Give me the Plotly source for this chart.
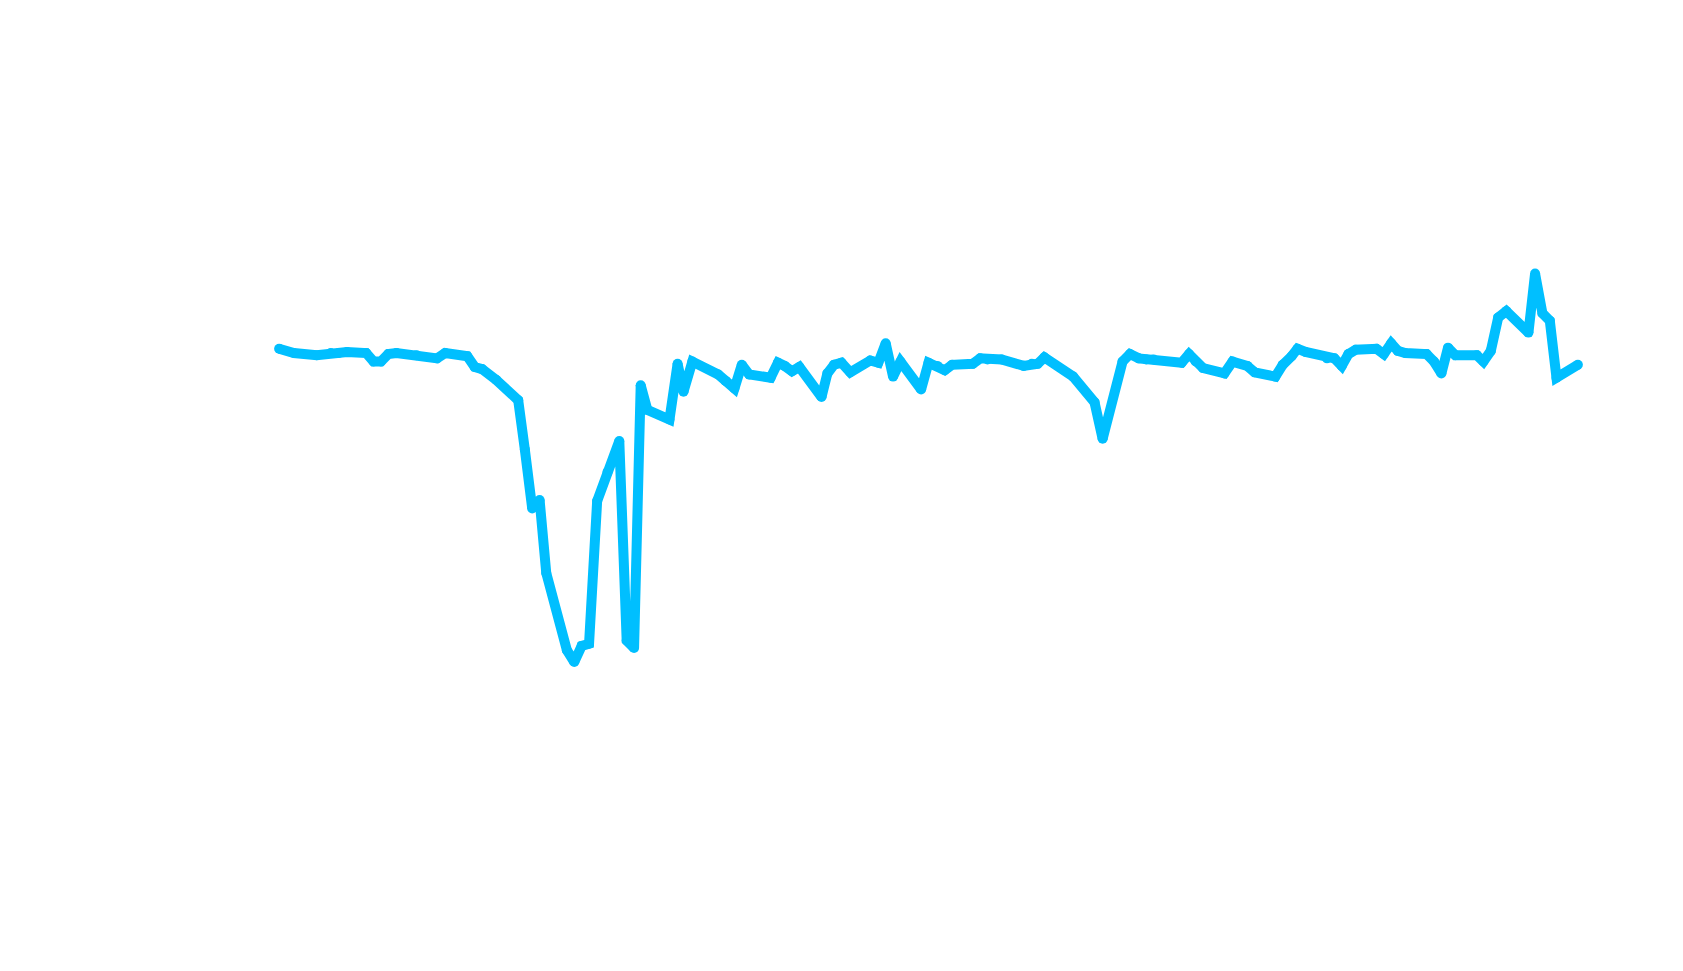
import plotly.graph_objects as go

# x: day index, y: value (arbitrary units, no axis shown in reference)
days = [0.0, 2.0, 5.1, 7.0, 8.1, 9.2, 11.8, 12.8, 13.8, 14.8, 15.9, 18.6, 21.4, 22.5, 25.5, 26.5,
        27.5, 29.4, 32.4, 33.3, 34.3, 35.3, 36.2, 39.0, 40.0, 41.0, 42.0, 43.1, 44.5, 46.1, 47.1,
        48.1, 49.0, 49.9, 52.9, 54.0, 54.8, 56.0, 59.5, 60.5, 61.7, 62.7, 63.7, 66.6, 67.6, 68.5,
        69.5, 70.5, 73.5, 74.3, 75.2, 76.2, 77.4, 80.1, 81.2, 82.2, 83.2, 84.2, 87.0, 88.0, 89.2,
        90.2, 91.2, 94.0, 95.0, 96.0, 97.9, 100.9, 102.0, 102.8, 103.7, 107.6, 110.5, 111.6,
        114.3, 115.3, 116.5, 117.5, 118.5, 122.3, 123.3, 124.2, 125.2, 128.1, 129.2, 131.2, 132.2,
        135.0, 136.0, 137.2, 138.0, 139.1, 142.0, 143.0, 144.0, 144.9, 145.9, 148.7, 149.7, 150.7,
        151.6, 152.6, 155.5, 156.5, 157.5, 158.4, 159.4, 162.3, 163.2, 164.2, 165.2, 166.3, 169.3,
        170.2, 171.2, 172.2, 173.1, 176.0]
values = [580, 576, 574, 576, 576, 577, 576, 568, 568, 575, 576, 574, 571, 576, 573, 563,
          561, 551, 532, 486, 431, 439, 371, 299, 288, 303, 305, 438, 465, 494, 308,
          301, 546, 523, 514, 566, 540, 568, 556, 550, 543, 565, 556, 553, 567, 564,
          559, 563, 535, 557, 565, 567, 558, 569, 567, 585, 554, 568, 542, 567, 564,
          560, 565, 566, 571, 570, 570, 564, 566, 566, 572, 554, 530, 496,
          568, 575, 571, 570, 570, 567, 575, 568, 562, 557, 568, 564, 558,
          554, 565, 573, 580, 577, 571, 571, 564, 575, 579, 580, 575, 585,
          578, 576, 575, 568, 557, 581, 574, 574, 568, 578, 609, 615, 595,
          650, 613, 606, 553, 565]

LINE_W = 10
fig = go.Figure()
fig.add_trace(go.Scatter(
    x=days, y=values, mode="lines+markers",
    line=dict(color="#00BFFF", width=LINE_W),
    marker=dict(color="#00BFFF", size=LINE_W, line=dict(width=0)),
    hoverinfo="skip", showlegend=False,
))
fig.update_layout(
    width=1683, height=971,
    margin=dict(l=0, r=0, t=0, b=0),
    paper_bgcolor="white", plot_bgcolor="white",
    xaxis=dict(visible=False, range=[-36.74, 191.33], fixedrange=True),
    yaxis=dict(visible=False, range=[-7.45, 897.55], fixedrange=True),
)
fig.write_html("out.html")
